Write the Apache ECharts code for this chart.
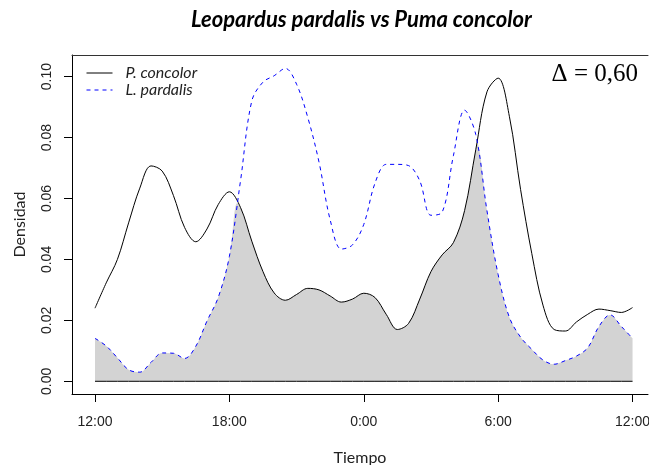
<!DOCTYPE html>
<html>
<head>
<meta charset="utf-8">
<script src="https://cdn.jsdelivr.net/npm/echarts@6/dist/echarts.min.js"></script>
<style>html,body{margin:0;padding:0;background:#fff}#c{width:649px;height:465px}</style>
</head>
<body>
<div id="c"></div>
<script>
const hours = [0,0.5,1,1.5,2,2.5,3,3.5,4,4.5,5,5.5,6,6.5,7,7.5,8,8.5,9,9.5,10,10.5,11,11.5,12,12.5,13,13.5,14,14.5,15,15.5,16,16.5,17,17.5,18,18.5,19,19.5,20,20.5,21,21.5,22,22.5,23,23.5,24];
const concolor = [0.024,0.0323,0.040,0.052,0.0634,0.0707,0.069,0.061,0.0505,0.0458,0.050,0.058,0.0622,0.057,0.046,0.036,0.029,0.0266,0.0285,0.0305,0.030,0.028,0.026,0.027,0.0289,0.0275,0.022,0.017,0.019,0.027,0.036,0.0415,0.0455,0.056,0.076,0.095,0.0995,0.087,0.063,0.042,0.025,0.017,0.0165,0.0195,0.022,0.0237,0.0232,0.0226,0.0242];
const pardalis = [0.0141,0.0116,0.0077,0.0038,0.0030,0.0062,0.0093,0.0092,0.0075,0.0115,0.0198,0.0275,0.041,0.066,0.092,0.0982,0.1003,0.1027,0.0975,0.0866,0.072,0.053,0.0434,0.0448,0.0515,0.065,0.0712,0.0712,0.0708,0.0658,0.0545,0.0555,0.074,0.089,0.081,0.056,0.035,0.021,0.0145,0.0105,0.007,0.0056,0.0068,0.0083,0.011,0.018,0.0218,0.018,0.0141];
const xTicks = [0,6,12,18,24];
const xTickLabels = ['12:00','18:00','0:00','6:00','12:00'];
const yTicks = [0,0.02,0.04,0.06,0.08,0.10];
const seriesNames = ['P. concolor','L. pardalis'];
const titleText = 'Leopardus pardalis vs Puma concolor';
const deltaText = '\u0394 = 0,60';

function pairs(v){ return hours.map((h,i)=>[h,v[i]]); }
function overlapData(){
  const out=[];
  for(let i=0;i<hours.length;i++){
    out.push([hours[i], Math.min(concolor[i], pardalis[i])]);
    if(i<hours.length-1){
      const d0=concolor[i]-pardalis[i], d1=concolor[i+1]-pardalis[i+1];
      if(d0*d1<0){
        const t=d0/(d0-d1);
        out.push([hours[i]+t*(hours[i+1]-hours[i]), concolor[i]+t*(concolor[i+1]-concolor[i])]);
      }
    }
  }
  return out;
}

const chart = echarts.init(document.getElementById('c'), null, {renderer:'canvas'});
const SM = 0.35;
chart.setOption({
  animation:false,
  backgroundColor:'#fff',
  title:[
    {text:titleText, left:186, top:4, textStyle:{fontFamily:'Lato', fontStyle:'italic', fontWeight:'bold', fontSize:22, color:'#000'}},
    {text:deltaText, right:6, top:57, textStyle:{fontFamily:'Liberation Serif', fontWeight:'normal', fontSize:25, color:'#000'}}
  ],
  legend:{
    data:seriesNames, orient:'vertical', left:81, top:60, itemWidth:26, itemHeight:10, itemGap:1,
    itemStyle:{opacity:0}, lineStyle:{width:1},
    textStyle:{fontFamily:'Lato', fontStyle:'italic', fontSize:16, color:'#222', padding:[0,0,0,8]}
  },
  grid:{left:72, right:1, top:55, bottom:71, containLabel:false, outerBoundsMode:'none'},
  xAxis:[{
    type:'value', min:-1.027, max:24.69,
    name:'Tiempo', nameLocation:'middle', nameGap:56,
    nameTextStyle:{fontFamily:'Lato', fontSize:16, color:'#222'},
    axisLine:{show:true, onZero:false, lineStyle:{color:'#000', width:1}},
    axisTick:{show:true, length:8, customValues:xTicks, lineStyle:{color:'#000'}},
    axisLabel:{customValues:xTicks, formatter:(v)=>xTickLabels[xTicks.indexOf(v)] ?? '', margin:21, fontFamily:'Liberation Sans', fontSize:14, color:'#222'},
    splitLine:{show:false}
  },{
    type:'value', position:'top', min:-1.027, max:24.69,
    axisLine:{show:true, onZero:false, lineStyle:{color:'#333', width:1}},
    axisTick:{show:false}, axisLabel:{show:false}, splitLine:{show:false}
  }],
  yAxis:{
    type:'value', min:-0.00417, max:0.1071,
    name:'Densidad', nameLocation:'middle', nameGap:44,
    nameTextStyle:{fontFamily:'Lato', fontSize:16, color:'#222'},
    axisLine:{show:true, onZero:false, lineStyle:{color:'#000', width:1}},
    axisTick:{show:true, length:8, customValues:yTicks, lineStyle:{color:'#000'}},
    axisLabel:{customValues:yTicks, rotate:90, formatter:(v)=>v.toFixed(2), margin:18, fontFamily:'Liberation Sans', fontSize:14, color:'#222'},
    splitLine:{show:false}
  },
  series:[
    {name:'overlap', type:'line', data:overlapData(), smooth:SM, symbol:'none', silent:true,
     lineStyle:{width:0, opacity:0}, areaStyle:{color:'#d3d3d3', opacity:1, origin:0}, z:1},
    {name:'base', type:'line', data:hours.map(h=>[h,0]), symbol:'none', silent:true,
     lineStyle:{color:'#000', width:1}, z:2},
    {name:seriesNames[0], type:'line', data:pairs(concolor), smooth:SM, symbol:'none',
     lineStyle:{color:'#000', width:1, type:'solid'}, itemStyle:{color:'#000'}, z:3},
    {name:seriesNames[1], type:'line', data:pairs(pardalis), smooth:SM, symbol:'none',
     lineStyle:{color:'#0000ff', width:1, type:[4,4]}, itemStyle:{color:'#0000ff'}, z:3}
  ]
});
</script>
</body>
</html>
